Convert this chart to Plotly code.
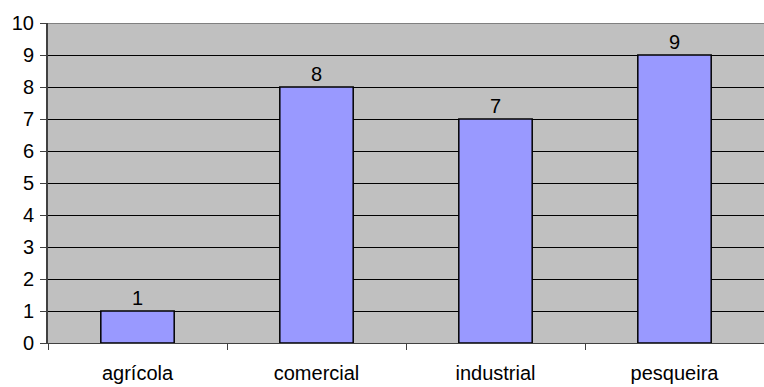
import plotly.graph_objects as go

categorias = ["agrícola", "comercial", "industrial", "pesqueira"]
valores = [1, 8, 7, 9]

FONT = "Liberation Sans, Arial"
FS = 20

fig = go.Figure()
fig.add_trace(go.Bar(
    x=categorias,
    y=valores,
    marker=dict(color="#9999FF", line=dict(color="#000000", width=1.5)),
    width=0.41,
    hoverinfo="skip",
))

# value labels above each bar
for c, v in zip(categorias, valores):
    fig.add_annotation(x=c, y=v, text=str(v), showarrow=False,
                       yanchor="bottom", yshift=0,
                       font=dict(family=FONT, size=FS, color="#000"))

# grey top border of the plot area
fig.add_shape(type="line", xref="paper", yref="y", x0=0, x1=1, y0=10, y1=10,
              line=dict(color="#808080", width=2))

fig.update_layout(
    width=764, height=387,
    margin=dict(l=48, r=0, t=23, b=44),
    paper_bgcolor="white",
    plot_bgcolor="#C0C0C0",
    showlegend=False,
    font=dict(family=FONT, size=FS, color="#000"),
    bargap=0.59,
)
fig.update_xaxes(
    type="category",
    tickson="boundaries",
    ticks="outside", ticklen=6, tickcolor="#404040", tickwidth=1,
    showline=True, linecolor="#404040", linewidth=1,
    showgrid=False,
    ticklabelstandoff=12,
    tickfont=dict(size=FS),
)
fig.update_yaxes(
    range=[0, 10], dtick=1,
    ticks="outside", ticklen=6, tickcolor="#404040", tickwidth=1,
    showline=True, linecolor="#404040", linewidth=2,
    showgrid=True, gridcolor="#000000", gridwidth=1,
    zeroline=False,
    ticklabelstandoff=2,
    tickfont=dict(size=FS),
)

fig.write_html("out.html")
